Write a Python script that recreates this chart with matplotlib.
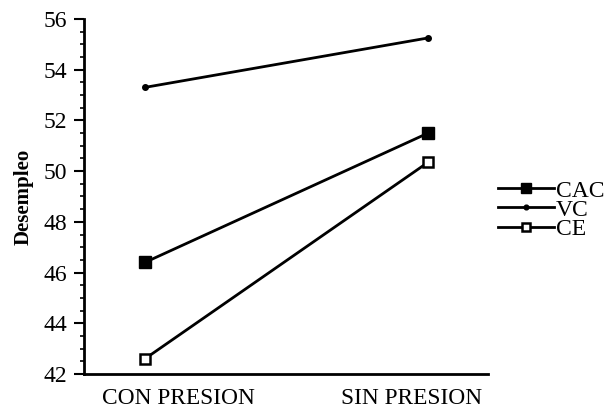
import numpy as np
import matplotlib.pyplot as plt
from matplotlib.ticker import MultipleLocator

categories = ['CON PRESION', 'SIN PRESION']
cac = [46.4, 51.5]
vc = [53.3, 55.25]
ce = [42.6, 50.35]

plt.rcParams['font.family'] = ['Liberation Serif', 'DejaVu Serif']

fig = plt.figure(figsize=(6.08, 4.11), dpi=100)
ax = fig.add_axes([0.138, 0.09, 0.665, 0.864])

x = np.arange(len(categories))
ax.plot(x, cac, '-', color='black', lw=2, marker='s', ms=8, mfc='black', mec='black', label='CAC')
ax.plot(x, vc, '-', color='black', lw=2, marker='o', ms=4, mfc='black', mec='black', label='VC')
ax.plot(x, ce, '-', color='black', lw=2, marker='s', ms=7, mfc='white', mec='black', mew=1.8, label='CE')

ax.set_xlim(-0.2155, 1.212)
ax.set_ylim(42, 56)
# category labels in the original sit a bit off the data points
ax.set_xticks(x + np.array([0.117, -0.057]))
ax.set_xticklabels(categories, fontsize=16.8)
ax.tick_params(axis='x', length=0, pad=10)
ax.yaxis.set_major_locator(MultipleLocator(2))
ax.yaxis.set_minor_locator(MultipleLocator(0.5))
ax.tick_params(axis='y', which='major', length=7, width=1.5, labelsize=17, pad=5)
ax.tick_params(axis='y', which='minor', length=3, width=1.2)

for s in ['top', 'right']:
    ax.spines[s].set_visible(False)
ax.spines['left'].set_linewidth(2)
ax.spines['bottom'].set_linewidth(2)

ax.set_ylabel('Desempleo', fontsize=15, fontweight='bold', labelpad=7)

leg = ax.legend(loc='center left', bbox_to_anchor=(1.0, 0.462), frameon=False,
                fontsize=17, handlelength=2.4, handletextpad=0.05, markerscale=0.85,
                labelspacing=-0.1, borderaxespad=0.4, borderpad=0)

fig.savefig('out.png', dpi=100)
